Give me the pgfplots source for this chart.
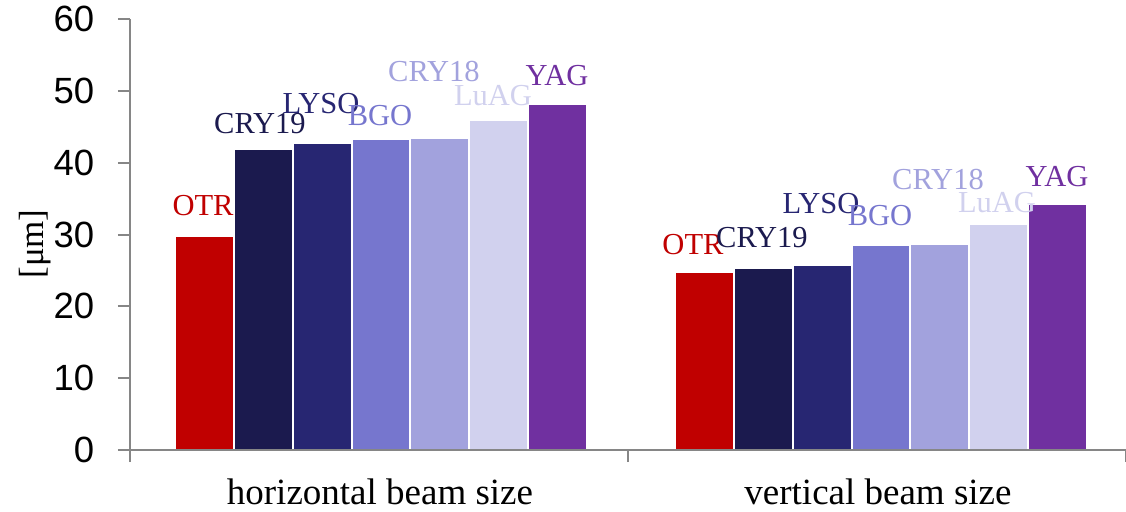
\documentclass[border=0pt]{standalone}
\usepackage{fontspec}
\setmainfont{Liberation Serif}
\newfontfamily\arial{Liberation Sans}
\usepackage{pgfplots}
\pgfplotsset{compat=1.18}
\definecolor{cOTR}{RGB}{192,0,0}
\definecolor{cCRYa}{RGB}{27,26,78}
\definecolor{cLYSO}{RGB}{39,38,114}
\definecolor{cBGO}{RGB}{118,118,206}
\definecolor{cCRYb}{RGB}{162,162,221}
\definecolor{cLuAG}{RGB}{209,209,238}
\definecolor{cYAG}{RGB}{112,48,160}
\definecolor{axisgray}{RGB}{134,134,134}
\begin{document}
\begin{tikzpicture}
\useasboundingbox (-52pt,-24.4pt) rectangle (398.4pt,180pt);
\begin{axis}[
 scale only axis, width=398.4pt, height=172.4pt,
 xmin=0, xmax=2, ymin=0, ymax=60,
 axis x line=bottom, axis y line=left,
 axis line style={-, draw=axisgray, line width=0.8pt},
 xtick={0,1,2}, xticklabels={}, ytick={0,10,...,60},
 tick align=outside, major tick length=4.8pt,
 tick style={draw=axisgray, line width=0.8pt},
 yticklabel style={font=\arial\fontsize{14.6}{16}\selectfont, xshift=-6pt},
 /pgf/number format/assume math mode=true,
 ybar, bar width=23.55pt,
 every axis plot/.append style={draw=white, line width=0.8pt},
 clip=false, axis on top,
]
\addplot[fill=cOTR,  bar shift=-70.65pt] coordinates {(0.504,29.8) (1.508,24.8)};
\addplot[fill=cCRYa, bar shift=-47.1pt]  coordinates {(0.504,41.9) (1.508,25.4)};
\addplot[fill=cLYSO, bar shift=-23.55pt] coordinates {(0.504,42.7) (1.508,25.7)};
\addplot[fill=cBGO,  bar shift=0pt]      coordinates {(0.504,43.3) (1.508,28.6)};
\addplot[fill=cCRYb, bar shift=23.55pt]  coordinates {(0.504,43.4) (1.508,28.7)};
\addplot[fill=cLuAG, bar shift=47.1pt]   coordinates {(0.504,46.0) (1.508,31.4)};
\addplot[fill=cYAG,  bar shift=70.65pt]  coordinates {(0.504,48.2) (1.508,34.2)};
\begin{scope}[every node/.style={anchor=base, inner sep=0pt, font=\fontsize{12.2}{14}\selectfont}]
\node[text=cOTR]  at (axis cs:0.1466,32.58) {OTR};
\node[text=cCRYa] at (axis cs:0.261,44.13) {CRY19};
\node[text=cLYSO] at (axis cs:0.3835,46.78) {LYSO};
\node[text=cBGO]  at (axis cs:0.502,45.11) {BGO};
\node[text=cCRYb] at (axis cs:0.6104,51.37) {CRY18};
\node[text=cLuAG] at (axis cs:0.7289,48.03) {LuAG};
\node[text=cYAG]  at (axis cs:0.8574,50.68) {YAG};
\node[text=cOTR]  at (axis cs:1.1305,27.15) {OTR};
\node[text=cCRYa] at (axis cs:1.269,28.26) {CRY19};
\node[text=cLYSO] at (axis cs:1.3876,32.86) {LYSO};
\node[text=cBGO]  at (axis cs:1.506,31.32) {BGO};
\node[text=cCRYb] at (axis cs:1.6225,36.20) {CRY18};
\node[text=cLuAG] at (axis cs:1.741,33.0) {LuAG};
\node[text=cYAG]  at (axis cs:1.8614,36.75) {YAG};
\end{scope}
\node[anchor=base, inner sep=0pt, font=\fontsize{14.8}{17}\selectfont] at (axis cs:0.502,0) [yshift=-21.6pt] {horizontal beam size};
\node[anchor=base, inner sep=0pt, font=\fontsize{14.8}{17}\selectfont] at (axis cs:1.502,0) [yshift=-21.6pt] {vertical beam size};
\end{axis}
\node[rotate=90, inner sep=0pt, font=\fontsize{14}{16}\selectfont] at (-38pt,82.4pt) {[μm]};
\end{tikzpicture}
\end{document}
